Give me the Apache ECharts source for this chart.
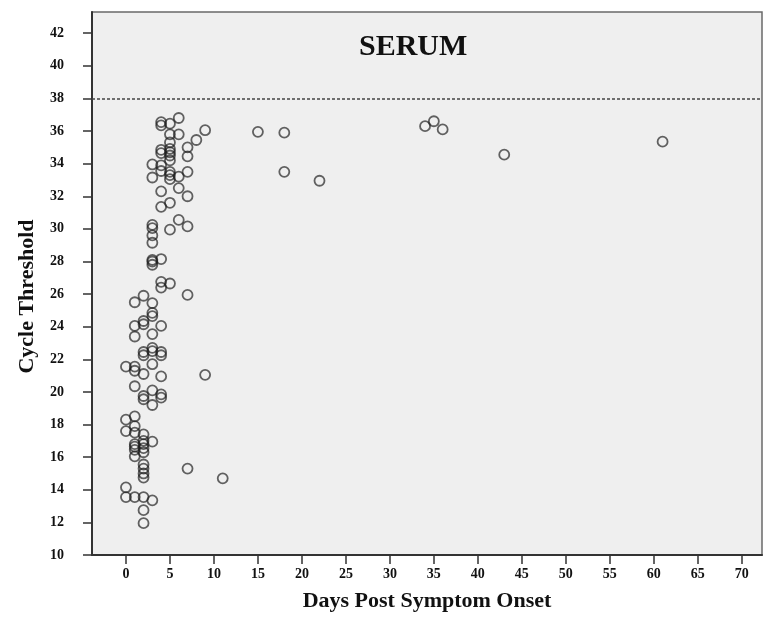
<!DOCTYPE html>
<html>
<head>
<meta charset="utf-8">
<script src="https://cdn.jsdelivr.net/npm/echarts@6/dist/echarts.min.js"></script>
<style>
html,body{margin:0;padding:0;background:#ffffff;}
#chart{width:764px;height:617px;}
</style>
</head>
<body>
<div id="chart"></div>
<script>
// Data (day post symptom onset, cycle threshold)
var days = [
  6,4,4,5,9,5,6,8,5,7,4,5,5,4,5,7,5,3,4,4,5,5,6,7,3,5,4,6,7,5,4,
  6,7,5,3,3,3,3,3,3,3,4,4,4,5,7,2,1,3,
  3,3,2,2,1,4,1,3,3,3,2,2,4,4,0,1,1,2,3,4,9,1,3,2,2,4,4,3,
  0,1,1,0,1,2,3,2,1,1,1,1,2,2,2,2,2,2,2,7,11,0,0,1,2,3,2,2,
  15,18,18,22,34,35,36,43,61
];
var ctValues = [
  36.8,36.55,36.35,36.45,36.05,35.8,35.8,35.45,35.3,35.0,34.85,34.9,34.7,34.65,34.5,34.45,34.2,33.95,33.9,33.55,33.5,33.3,33.2,33.5,33.15,33.05,32.3,32.5,32.0,31.6,31.35,
  30.55,30.15,29.95,30.25,30.05,29.6,29.15,28.1,28.0,27.8,28.15,26.75,26.4,26.65,25.95,25.9,25.5,25.45,
  24.85,24.65,24.35,24.15,24.05,24.05,23.4,23.55,22.7,22.5,22.45,22.25,22.45,22.25,21.55,21.55,21.3,21.1,21.7,20.95,21.05,20.35,20.1,19.75,19.55,19.85,19.65,19.2,
  18.3,18.5,17.9,17.6,17.5,17.4,16.95,17.0,16.8,16.65,16.45,16.05,16.8,16.55,16.3,15.55,15.3,15.0,14.75,15.3,14.7,14.15,13.55,13.55,13.55,13.35,12.75,11.95,
  35.95,35.9,33.5,32.95,36.3,36.6,36.1,34.55,35.35
];
var cutoff = 38;
var xTicks = [0,5,10,15,20,25,30,35,40,45,50,55,60,65,70];
var yTicks = [10,12,14,16,18,20,22,24,26,28,30,32,34,36,38,40,42];
var titleText = 'SERUM';
var xName = 'Days Post Symptom Onset';
var yName = 'Cycle Threshold';

var points = days.map(function(d, i){ return [d, ctValues[i]]; });

var serif = '"Liberation Serif", "Times New Roman", serif';
var chart = echarts.init(document.getElementById('chart'));
chart.setOption({
  backgroundColor: '#ffffff',
  animation: false,
  title: {
    text: titleText,
    left: 354, top: 27,
    textStyle: {fontFamily: serif, fontWeight: 'bold', fontSize: 30, color: '#111'}
  },
  grid: {
    left: 92, top: 12, right: 2, bottom: 58,
    show: true, backgroundColor: '#efefef', borderColor: '#6a6a6a', borderWidth: 1.5
  },
  xAxis: {
    type: 'value', min: -3.86, max: 72.3,
    name: xName, nameLocation: 'middle', nameGap: 35,
    nameTextStyle: {fontFamily: serif, fontWeight: 'bold', fontSize: 22, color: '#111'},
    axisLine: {show: true, onZero: false, lineStyle: {color: '#333', width: 2}},
    axisTick: {show: true, length: 9, customValues: xTicks, lineStyle: {color: '#333', width: 1.5}},
    axisLabel: {customValues: xTicks, margin: 12, fontFamily: serif, fontWeight: 'bold', fontSize: 14, color: '#111'},
    splitLine: {show: false}
  },
  yAxis: {
    type: 'value', min: 10, max: 43.3,
    name: yName, nameLocation: 'middle', nameGap: 54, nameRotate: 90,
    nameTextStyle: {fontFamily: serif, fontWeight: 'bold', fontSize: 22, color: '#111', padding: [0, 26, 0, 0]},
    axisLine: {show: true, onZero: false, lineStyle: {color: '#333', width: 2}},
    axisTick: {show: true, length: 9, customValues: yTicks, lineStyle: {color: '#333', width: 1.5}},
    axisLabel: {customValues: yTicks, margin: 28, fontFamily: serif, fontWeight: 'bold', fontSize: 14, color: '#111'},
    splitLine: {show: false}
  },
  series: [{
    type: 'scatter',
    data: points,
    symbol: 'circle',
    symbolSize: 10,
    itemStyle: {color: 'rgba(0,0,0,0)', borderColor: 'rgba(30,30,30,0.85)', borderWidth: 1.8},
    markLine: {
      silent: true, symbol: 'none', label: {show: false},
      lineStyle: {color: '#444', type: [3, 2], width: 1.5},
      data: [{yAxis: cutoff}]
    }
  }]
});
</script>
</body>
</html>
